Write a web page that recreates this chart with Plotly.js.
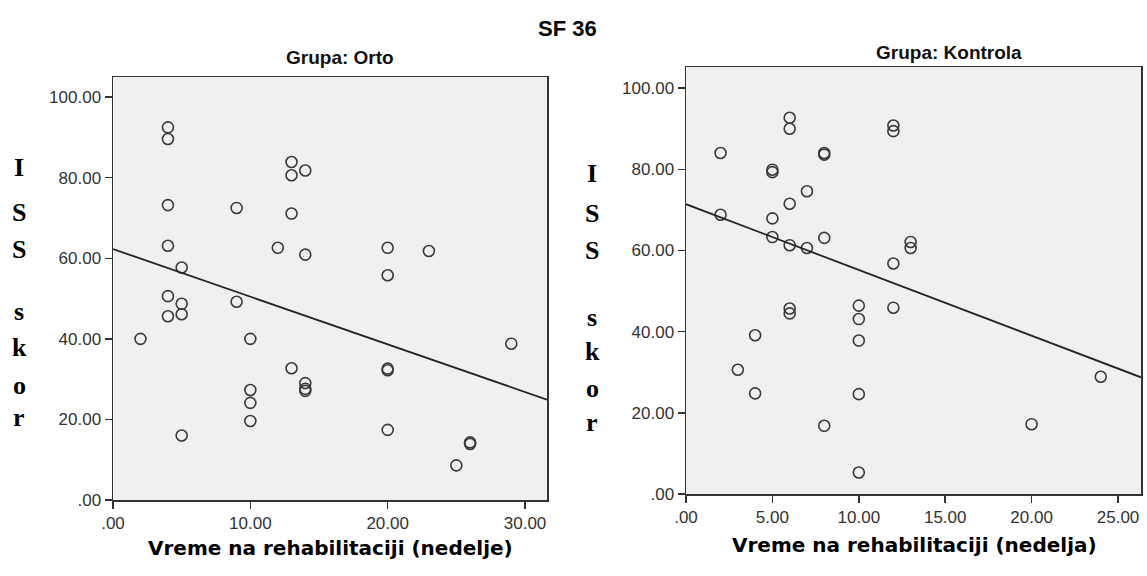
<!DOCTYPE html>
<html>
<head>
<meta charset="utf-8">
<script src="https://cdn.plot.ly/plotly-3.0.1.min.js"></script>
<style>html,body{margin:0;padding:0;background:#fff;}#chart{width:1147px;height:576px;}</style>
</head>
<body>
<div id="chart"></div>
<script>
// ---------- data ----------
const mainTitle = "SF 36";
const groupTitles = ["Grupa: Orto", "Grupa: Kontrola"];
const xTitles = ["Vreme na rehabilitaciji (nedelje)", "Vreme na rehabilitaciji (nedelja)"];
const yTitleLetters = ["I", "S", "S", "s", "k", "o", "r"];

// Grupa: Orto
const ortoWeeks = [4, 4, 13, 13, 14, 4, 9, 13, 4, 12, 14, 20, 23, 20, 5, 4, 5, 9,
                   4, 5, 2, 10, 13, 14, 14, 14, 20, 20, 29, 10, 10, 10, 5, 20, 26, 26, 25];
const ortoScore = [92.5, 89.6, 83.9, 80.6, 81.8, 73.2, 72.5, 71.1, 63.1, 62.6, 60.9, 62.6, 61.8, 55.8, 57.7, 50.6, 48.7, 49.2,
                   45.6, 46.1, 40.0, 40.0, 32.7, 29.0, 27.6, 27.1, 32.6, 32.2, 38.8, 27.3, 24.1, 19.6, 16.0, 17.4, 14.3, 13.9, 8.6];
const ortoFit = {intercept: 62.3, slope: -1.183};

// Grupa: Kontrola
const kontrolaWeeks = [2, 6, 6, 12, 12, 8, 8, 5, 5, 7, 6, 2, 5, 5, 6, 7, 8, 13, 13, 12,
                       6, 6, 10, 10, 12, 4, 10, 3, 4, 10, 8, 20, 24, 10];
const kontrolaScore = [84.0, 92.7, 90.0, 90.8, 89.4, 84.0, 83.6, 79.9, 79.3, 74.6, 71.5, 68.8, 67.9, 63.3, 61.3, 60.6, 63.1, 62.1, 60.6, 56.8,
                       45.7, 44.5, 46.4, 43.1, 45.9, 39.1, 37.8, 30.6, 24.8, 24.6, 16.8, 17.2, 28.9, 5.3];
const kontrolaFit = {intercept: 71.4, slope: -1.62};

// axis ticks
const ortoXTicks = [0, 10, 20, 30];
const ortoXTickText = [".00", "10.00", "20.00", "30.00"];
const kontrolaXTicks = [0, 5, 10, 15, 20, 25];
const kontrolaXTickText = [".00", "5.00", "10.00", "15.00", "20.00", "25.00"];
const yTicks = [0, 20, 40, 60, 80, 100];
const yTickText = [".00", "20.00", "40.00", "60.00", "80.00", "100.00"];

const ortoXRange = [0, 31.6];
const kontrolaXRange = [0, 26.33];
const ortoYRange = [0, 105];
const kontrolaYRange = [0, 105.2];

// ---------- figure ----------
const W = 1147, H = 576;
const px = v => v / W;
const py = v => 1 - v / H;

const markerStyle = {symbol: "circle-open", size: 11, color: "#3a3a3a", line: {width: 1.6, color: "#3a3a3a"}};
const fitLine = (fit, range, xa, ya) => ({
  x: range, y: range.map(x => fit.intercept + fit.slope * x),
  type: "scatter", mode: "lines", xaxis: xa, yaxis: ya,
  line: {color: "#222", width: 1.8}, hoverinfo: "skip", cliponaxis: true
});

const traces = [
  {x: ortoWeeks, y: ortoScore, type: "scatter", mode: "markers", xaxis: "x", yaxis: "y", marker: markerStyle, cliponaxis: false},
  fitLine(ortoFit, ortoXRange, "x", "y"),
  {x: kontrolaWeeks, y: kontrolaScore, type: "scatter", mode: "markers", xaxis: "x2", yaxis: "y2", marker: markerStyle, cliponaxis: false},
  fitLine(kontrolaFit, kontrolaXRange, "x2", "y2")
];

const tickFont = {family: "Liberation Sans, Arial, sans-serif", size: 17, color: "#333"};
const axisCommon = {
  showline: true, mirror: true, linecolor: "#333", linewidth: 1.5,
  ticks: "outside", ticklen: 7, tickwidth: 1.5, tickcolor: "#333",
  showgrid: false, zeroline: false, tickfont: tickFont, fixedrange: true
};

const letterYs = [[167, 212, 249, 311, 347, 385, 417], [173, 213, 250, 317, 351, 388, 422]];
const letterXs = [19, 592];
const annotations = [];
[0, 1].forEach(s => {
  yTitleLetters.forEach((ch, i) => {
    annotations.push({
      text: ch, xref: "paper", yref: "paper", x: px(letterXs[s]), y: py(letterYs[s][i]),
      xanchor: "center", yanchor: "middle", showarrow: false,
      font: {family: "Liberation Serif, Times New Roman, serif", size: 26, color: "#000", weight: "bold"}
    });
  });
});
annotations.push({text: "<b>" + mainTitle + "</b>", xref: "paper", yref: "paper", x: px(567), y: py(28),
  xanchor: "center", yanchor: "middle", showarrow: false, font: {family: "Liberation Sans, Arial, sans-serif", size: 22, color: "#000"}});
annotations.push({text: "<b>" + groupTitles[0] + "</b>", xref: "paper", yref: "paper", x: px(340), y: py(57),
  xanchor: "center", yanchor: "middle", showarrow: false, font: {family: "Liberation Sans Narrow, Arial Narrow, Liberation Sans, sans-serif", size: 19, color: "#111"}});
annotations.push({text: "<b>" + groupTitles[1] + "</b>", xref: "paper", yref: "paper", x: px(949), y: py(52),
  xanchor: "center", yanchor: "middle", showarrow: false, font: {family: "Liberation Sans Narrow, Arial Narrow, Liberation Sans, sans-serif", size: 19, color: "#111"}});
annotations.push({text: "<b>" + xTitles[0] + "</b>", xref: "paper", yref: "paper", x: px(330), y: py(548),
  xanchor: "center", yanchor: "middle", showarrow: false, font: {family: "DejaVu Sans, Verdana, sans-serif", size: 20, color: "#000"}});
annotations.push({text: "<b>" + xTitles[1] + "</b>", xref: "paper", yref: "paper", x: px(914), y: py(545),
  xanchor: "center", yanchor: "middle", showarrow: false, font: {family: "DejaVu Sans, Verdana, sans-serif", size: 20, color: "#000"}});

const layout = {
  width: W, height: H, margin: {l: 0, r: 0, t: 0, b: 0},
  paper_bgcolor: "#fff", plot_bgcolor: "#f0f0f0", showlegend: false,
  xaxis: Object.assign({}, axisCommon, {domain: [px(113), px(547)], range: ortoXRange, tickvals: ortoXTicks, ticktext: ortoXTickText, anchor: "y"}),
  yaxis: Object.assign({}, axisCommon, {domain: [py(500), py(77)], range: ortoYRange, tickvals: yTicks, ticktext: yTickText, anchor: "x"}),
  xaxis2: Object.assign({}, axisCommon, {domain: [px(686), px(1141)], range: kontrolaXRange, tickvals: kontrolaXTicks, ticktext: kontrolaXTickText, anchor: "y2"}),
  yaxis2: Object.assign({}, axisCommon, {domain: [py(494), py(67)], range: kontrolaYRange, tickvals: yTicks, ticktext: yTickText, anchor: "x2"}),
  annotations: annotations
};

Plotly.newPlot("chart", traces, layout, {staticPlot: true, displayModeBar: false});
</script>
</body>
</html>
